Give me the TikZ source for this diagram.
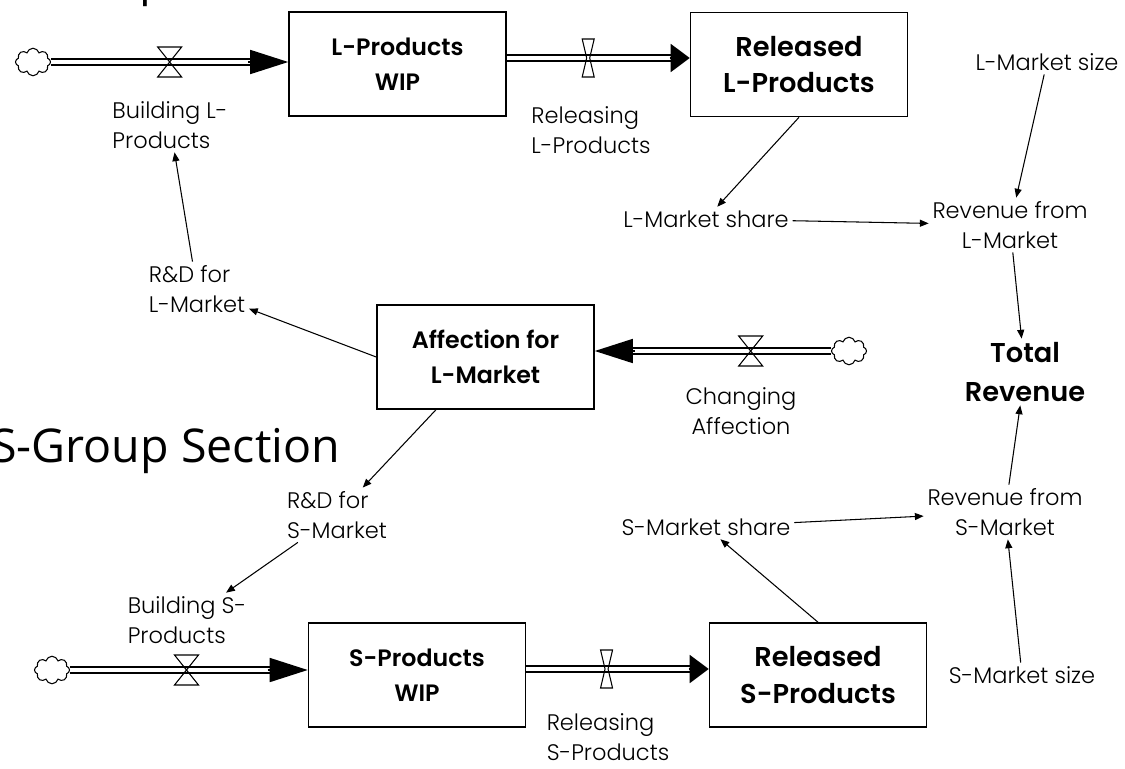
\documentclass[tikz,border=0pt]{standalone}
\usepackage{fontspec}
\setmainfont{Poppins}[UprightFont=* Light,BoldFont=* SemiBold]
\newfontfamily\titlefont{Open Sans}
\usetikzlibrary{arrows.meta,shapes.symbols}
\tikzset{
 stock/.style={rectangle,draw,line width=0.9pt,minimum width=4.34cm,minimum height=2.08cm,align=center,font=\bfseries\fontsize{13.5}{20}\selectfont},
 bigstock/.style={stock,font=\bfseries\fontsize{15.5}{21}\selectfont},
 aux/.style={align=left,inner sep=2pt,font=\fontsize{12.8}{17}\selectfont},
 auxc/.style={aux,align=center},
 src/.style={cloud,cloud puffs=8,aspect=1.2,draw,line width=0.6pt,minimum width=0.7cm,minimum height=0.55cm,inner sep=0pt},
 pipe/.style={double,double distance=2.6pt,line width=0.9pt},
 bigtip/.style={-{Triangle[length=0.76cm,width=0.48cm]},line width=0.9pt},
 reltip/.style={-{Triangle[length=0.38cm,width=0.56cm]},line width=0.9pt},
 link/.style={-{Triangle[length=5pt,width=4pt]},line width=0.6pt},
 valve/.pic={\draw[line width=0.6pt] (-12,-15) -- (12,-15) -- (-12,15) -- (12,15) -- cycle;},
 thinvalve/.pic={\draw[line width=0.6pt] (-6,-19) -- (6,-19) -- (1.5,0) -- (6,19) -- (-6,19) -- (-1.5,0) -- cycle;}}

\begin{document}
\begin{tikzpicture}[x=0.02cm,y=-0.02cm]
 \useasboundingbox (0,0) rectangle (1125,768);
 \clip (0,0) rectangle (1125,768);
 % section headings
 \node[anchor=base west,inner sep=0pt,font=\titlefont\fontsize{26.5}{30}\selectfont] (titleL) at (-9,-5) {L-Group Section};
 \node[anchor=base west,inner sep=0pt,font=\titlefont\fontsize{26.5}{30}\selectfont] (titleS) at (-9,462) {S-Group Section};

 % stocks
 \node[stock] (wipL) at (397.5,64) {L-Products\\WIP};
 \node[bigstock] (relL) at (799,64.5) {Released\\L-Products};
 \node[stock] (affL) at (485.5,357) {Affection for\\L-Market};
 \node[stock] (wipS) at (417,675) {S-Products\\WIP};
 \node[bigstock] (relS) at (818,675) {Released\\S-Products};

 % sources
 \node[src] (cloudBL) at (33,62) {};
 \node[src] (cloudA) at (849,351) {};
 \node[src] (cloudBS) at (52,670) {};

 % flow ends
 \coordinate (inL) at (cloudBL.east -| wipL.west);
 \coordinate (outL) at ([yshift=0.12cm]wipL.east);
 \coordinate (toRelL) at (outL -| relL.west);
 \coordinate (inA) at (cloudA.west -| affL.east);
 \coordinate (inS) at (cloudBS.east -| wipS.west);
 \coordinate (outS) at ([yshift=0.12cm]wipS.east);
 \coordinate (toRelS) at (outS -| relS.west);

 % pipes
 \draw[pipe,shorten >=0.7cm] (cloudBL.east) -- (inL);
 \draw[bigtip] ([xshift=-0.8cm]inL) -- (inL);
 \draw[pipe,shorten >=0.3cm] (outL) -- (toRelL);
 \draw[reltip] ([xshift=-0.4cm]toRelL) -- (toRelL);
 \draw[pipe,shorten >=0.7cm] (cloudA.west) -- (inA);
 \draw[bigtip] ([xshift=0.8cm]inA) -- (inA);
 \draw[pipe,shorten >=0.7cm] (cloudBS.east) -- (inS);
 \draw[bigtip] ([xshift=-0.8cm]inS) -- (inS);
 \draw[pipe,shorten >=0.3cm] (outS) -- (toRelS);
 \draw[reltip] ([xshift=-0.4cm]toRelS) -- (toRelS);

 % valves
 \path (cloudBL.east) -- (inL) pic[pos=0.5]{valve};
 \path (outL) -- (toRelL) pic[pos=0.445]{thinvalve};
 \path (cloudA.west) -- (inA) pic[pos=0.34]{valve};
 \path (cloudBS.east) -- (inS) pic[pos=0.49]{valve};
 \path (outS) -- (toRelS) pic[pos=0.44]{thinvalve};

 % rates and auxiliaries
 \node[aux] (buildL) at (170,125) {Building L-\\Products};
 \node[aux] (releaseL) at (591,130) {Releasing\\L-Products};
 \node[auxc] (chgA) at (741,411) {Changing\\Affection};
 \node[aux] (buildS) at (187,620) {Building S-\\Products};
 \node[aux] (releaseS) at (608,737) {Releasing\\S-Products};
 \node[aux] (rdL) at (197,289) {R\&D for\\L-Market};
 \node[aux] (rdS) at (337,515) {R\&D for\\S-Market};
 \node[aux] (sizeL) at (1047,62) {L-Market size};
 \node[aux] (shareL) at (706,219) {L-Market share};
 \node[auxc] (revL) at (1010,225) {Revenue from\\L-Market};
 \node[auxc,font=\bfseries\fontsize{15.5}{22}\selectfont] (total) at (1025,372) {Total\\Revenue};
 \node[aux] (shareS) at (706,527) {S-Market share};
 \node[auxc] (revS) at (1005,512) {Revenue from\\S-Market};
 \node[aux] (sizeS) at (1022,675) {S-Market size};

 % links
 \draw[link] (sizeL) -- (revL);
 \draw[link] (relL.south) -- (shareL);
 \draw[link] (shareL) -- (revL);
 \draw[link] (revL) -- (total);
 \draw[link] (revS) -- (total);
 \draw[link] (rdL) -- (buildL);
 \draw[link] (affL.west) -- (rdL);
 \draw[link] (affL) -- (rdS);
 \draw[link] (rdS) -- (buildS);
 \draw[link] (relS.north) -- (shareS);
 \draw[link] (shareS) -- (revS);
 \draw[link] (sizeS) -- (revS);
\end{tikzpicture}
\end{document}
